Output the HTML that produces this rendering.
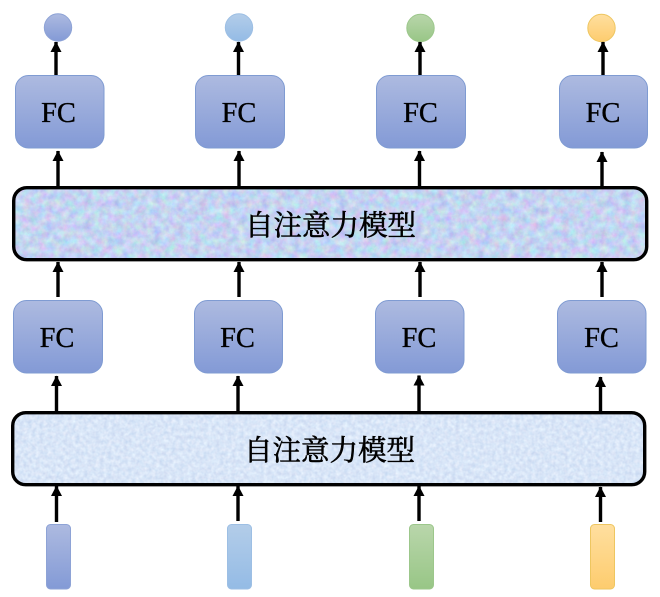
<!DOCTYPE html>
<html><head><meta charset="utf-8">
<style>
html,body{margin:0;padding:0;background:#fff;width:660px;height:597px;overflow:hidden}
svg{display:block}
.fc{font-family:"Liberation Serif",serif;font-size:28.5px;fill:#000;stroke:#000;stroke-width:.35px;text-anchor:middle}
.cn{font-family:"Liberation Serif","Noto Serif CJK SC",serif;font-size:28.5px;fill:#000;stroke:#000;stroke-width:.55px;text-anchor:middle}
</style></head><body>
<svg xmlns="http://www.w3.org/2000/svg" width="660" height="597" viewBox="0 0 660 597">
<defs>
<linearGradient id="gb" x1="0" y1="0" x2="0" y2="1"><stop offset="0" stop-color="#adbae0"/><stop offset="1" stop-color="#839ad6"/></linearGradient>
<linearGradient id="gl" x1="0" y1="0" x2="0" y2="1"><stop offset="0" stop-color="#b3cde9"/><stop offset="1" stop-color="#94bbe5"/></linearGradient>
<linearGradient id="gg" x1="0" y1="0" x2="0" y2="1"><stop offset="0" stop-color="#b9d6ab"/><stop offset="1" stop-color="#98c686"/></linearGradient>
<linearGradient id="gy" x1="0" y1="0" x2="0" y2="1"><stop offset="0" stop-color="#ffdf9f"/><stop offset="1" stop-color="#fdcc6e"/></linearGradient>
<filter id="n1" x="0" y="0" width="100%" height="100%" color-interpolation-filters="sRGB">
<feTurbulence type="fractalNoise" baseFrequency="0.13" numOctaves="4" seed="7"/>
<feColorMatrix type="matrix" values="0.3 0 0 0 0.62  0 0.3 0 0 0.68  0 0 0.15 0 0.87  0 0 0 0 1"/>
</filter>
<filter id="n2" x="0" y="0" width="100%" height="100%" color-interpolation-filters="sRGB">
<feTurbulence type="fractalNoise" baseFrequency="0.25" numOctaves="3" seed="3"/>
<feColorMatrix type="matrix" values="0.18 0 0 0 0.76  0.14 0.04 0 0 0.81  0.07 0.03 0 0 0.92  0 0 0 0 1"/>
</filter>
<filter id="soft" x="-2%" y="-2%" width="104%" height="104%"><feGaussianBlur stdDeviation="0.35"/></filter>
<clipPath id="c1"><rect x="13" y="187.5" width="634" height="72" rx="13"/></clipPath>
<clipPath id="c2"><rect x="12" y="412" width="633" height="73" rx="13"/></clipPath>
<marker id="a" markerUnits="userSpaceOnUse" markerWidth="12" markerHeight="12" refX="10" refY="5.5" orient="auto"><path d="M0 0L10.5 5.5L0 11Z" fill="#000"/></marker>
</defs>

<g filter="url(#soft)">
<!-- bands -->
<g clip-path="url(#c1)"><rect x="13" y="187" width="635" height="73" filter="url(#n1)"/></g>
<rect x="13.7" y="187.7" width="633" height="72" rx="13" fill="none" stroke="#000" stroke-width="3.4"/>
<g clip-path="url(#c2)"><rect x="12" y="412" width="634" height="73" filter="url(#n2)"/></g>
<rect x="12.7" y="412.7" width="632" height="72" rx="13" fill="none" stroke="#000" stroke-width="3.4"/>

<!-- top circles -->
<circle cx="58" cy="27.5" r="13.7" fill="url(#gb)" stroke="#8ea3d6"/>
<circle cx="239" cy="27.5" r="13.7" fill="url(#gl)" stroke="#9dbfe4"/>
<circle cx="420.5" cy="28" r="13.7" fill="url(#gg)" stroke="#9cc78b"/>
<circle cx="601.5" cy="28" r="13.7" fill="url(#gy)" stroke="#eec660"/>

<!-- FC row 1 -->
<g fill="url(#gb)" stroke="#7f9bd2" stroke-width="1">
<rect x="15.5" y="75.5" width="88.5" height="72.5" rx="13"/>
<rect x="195.5" y="75.5" width="89" height="72.5" rx="13"/>
<rect x="376.5" y="75.5" width="89" height="72.5" rx="13"/>
<rect x="559.5" y="75.5" width="88" height="72.5" rx="13"/>
</g>
<!-- FC row 2 -->
<g fill="url(#gb)" stroke="#7f9bd2" stroke-width="1">
<rect x="13.5" y="300.5" width="89" height="72.5" rx="13"/>
<rect x="194.5" y="300.5" width="88" height="72.5" rx="13"/>
<rect x="375.5" y="300.5" width="88.5" height="72.5" rx="13"/>
<rect x="557.5" y="300.5" width="88.5" height="72.5" rx="13"/>
</g>

<!-- inputs -->
<rect x="46.5" y="524.5" width="24" height="64.5" rx="4" fill="url(#gb)" stroke="#8ea3d6"/>
<rect x="227.5" y="524.5" width="24" height="64.5" rx="4" fill="url(#gl)" stroke="#9dbfe4"/>
<rect x="409.5" y="524.5" width="24" height="64.5" rx="4" fill="url(#gg)" stroke="#9cc78b"/>
<rect x="590.5" y="524.5" width="24" height="64.5" rx="4" fill="url(#gy)" stroke="#eec660"/>

<!-- arrows -->
<g stroke="#000" stroke-width="3.4" fill="none">
<path d="M56 75V42" marker-end="url(#a)"/>
<path d="M238.500 75V42" marker-end="url(#a)"/>
<path d="M420 75V42" marker-end="url(#a)"/>
<path d="M603 75V42" marker-end="url(#a)"/>
<path d="M58 186V151" marker-end="url(#a)"/>
<path d="M239 186V151" marker-end="url(#a)"/>
<path d="M419.500 186V151" marker-end="url(#a)"/>
<path d="M602 186V152" marker-end="url(#a)"/>
<path d="M58 297V262" marker-end="url(#a)"/>
<path d="M239 297V262" marker-end="url(#a)"/>
<path d="M420 297V262" marker-end="url(#a)"/>
<path d="M602 297V262" marker-end="url(#a)"/>
<path d="M56.500 411V376" marker-end="url(#a)"/>
<path d="M238 411V376" marker-end="url(#a)"/>
<path d="M419 411V375.500" marker-end="url(#a)"/>
<path d="M600.500 411V377" marker-end="url(#a)"/>
<path d="M56.500 522V486" marker-end="url(#a)"/>
<path d="M238 521V486" marker-end="url(#a)"/>
<path d="M419 521V486" marker-end="url(#a)"/>
<path d="M600.500 522V487" marker-end="url(#a)"/>
</g>

<!-- labels -->
<text class="fc" x="58.500" y="122">FC</text>
<text class="fc" x="239" y="122">FC</text>
<text class="fc" x="420.500" y="122">FC</text>
<text class="fc" x="603" y="122">FC</text>
<text class="fc" x="57" y="347">FC</text>
<text class="fc" x="237.500" y="347">FC</text>
<text class="fc" x="419" y="347">FC</text>
<text class="fc" x="601.500" y="347">FC</text>
<text class="cn" x="330.500" y="235" textLength="171" lengthAdjust="spacing">自注意力模型</text>
<text class="cn" x="329.500" y="460" textLength="171" lengthAdjust="spacing">自注意力模型</text>
</g>
</svg>
</body></html>
